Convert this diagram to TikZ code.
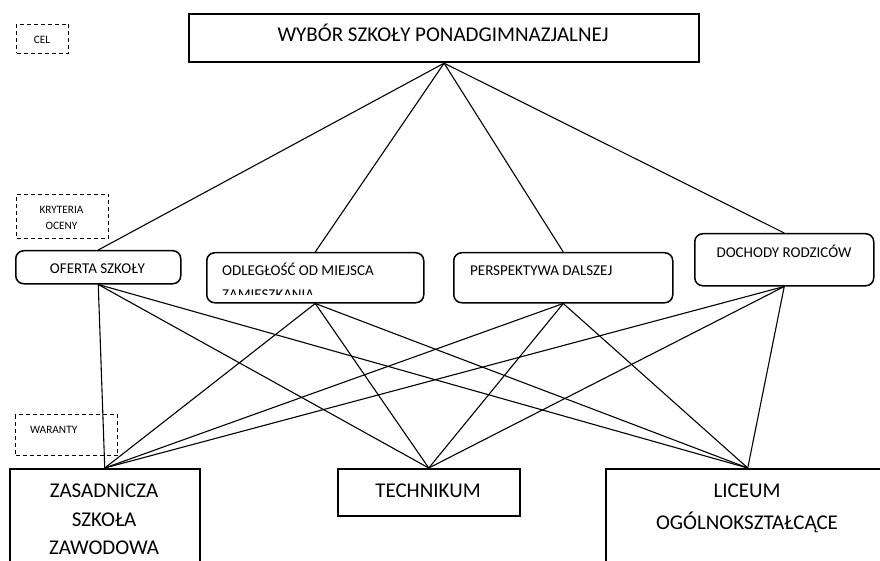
\documentclass[tikz,border=0pt]{standalone}
\usepackage{fontspec}
\setmainfont{Carlito}
\begin{document}
\begin{tikzpicture}[x=1pt,y=-1pt,
  box/.style={draw,line width=1.5pt,inner sep=0pt,anchor=north west},
  goalbox/.style={draw,line width=2.2pt,inner sep=0pt,anchor=north west},
  rbox/.style={draw,line width=1.5pt,rounded corners=8pt,inner sep=0pt,anchor=north west},
  dbox/.style={draw,line width=1pt,dash pattern=on 4pt off 3pt,inner sep=0pt,anchor=north west},
  conn/.style={line width=1.1pt},
  small/.style={font=\fontsize{11.3}{13}\selectfont,inner sep=0pt},
  mid/.style={font=\fontsize{15}{18}\selectfont,inner sep=0pt},
  big/.style={font=\fontsize{21}{25}\selectfont,inner sep=0pt}]
\useasboundingbox (0,0) rectangle (880,561);
\clip (0,0) rectangle (880,561);

% goal
\node[goalbox,minimum width=510pt,minimum height=48pt] (goal) at (188,13) {};
\node[big,anchor=base] (goalt) at (443,42) {WYBÓR SZKOŁY PONADGIMNAZJALNEJ};

% side labels
\node[dbox,minimum width=52pt,minimum height=29pt] (cel) at (16,24) {};
\node[small,anchor=base] (celt) at (42,44) {CEL};
\node[dbox,minimum width=92pt,minimum height=44pt] (kry) at (16,194) {};
\node[small,anchor=base] (kryt1) at (61.5,214) {KRYTERIA};
\node[small,anchor=base] (kryt2) at (61.5,230) {OCENY};
\node[dbox,minimum width=102pt,minimum height=41pt] (war) at (15,414) {};
\node[small,anchor=base west] (wart) at (30,433) {WARANTY};

% criteria
\node[rbox,minimum width=165pt,minimum height=33pt] (oferta) at (15,250) {};
\node[mid,anchor=base] (ofertat) at (97.5,273) {OFERTA SZKOŁY};
\node[rbox,minimum width=217pt,minimum height=50pt] (odl) at (206,252) {};
\begin{scope}
  \clip (206,252) rectangle (423,294);
  \node[mid,anchor=base west] (odlt1) at (222,276) {ODLEGŁOŚĆ OD MIEJSCA};
  \node[mid,anchor=base west] (odlt2) at (222,299) {ZAMIESZKANIA};
\end{scope}
\node[rbox,minimum width=219pt,minimum height=50pt] (persp) at (453,252) {};
\node[mid,anchor=base west] (perspt) at (470,276) {PERSPEKTYWA DALSZEJ};
\node[rbox,minimum width=179pt,minimum height=52pt] (doch) at (694,233) {};
\node[mid,anchor=base] (docht) at (784,258) {DOCHODY RODZICÓW};

% alternatives
\node[box,minimum width=190pt,minimum height=120pt] (zsz) at (9,468) {};
\node[big,anchor=base] (zszt1) at (104,497) {ZASADNICZA};
\node[big,anchor=base] (zszt2) at (104,526) {SZKOŁA};
\node[big,anchor=base] (zszt3) at (104,554) {ZAWODOWA};
\node[box,minimum width=182pt,minimum height=47pt] (tech) at (337,468) {};
\node[big,anchor=base] (techt) at (428,497) {TECHNIKUM};
\node[box,minimum width=284pt,minimum height=120pt] (lic) at (605,468) {};
\node[big,anchor=base] (lict1) at (747,497) {LICEUM};
\node[big,anchor=base] (lict2) at (747,529) {OGÓLNOKSZTAŁCĄCE};

% connectors
\foreach \c in {oferta,odl,persp,doch}
  \draw[conn] (goal.south) -- (\c.north);
\foreach \c in {oferta,odl,persp,doch}
  \foreach \a in {zsz,tech,lic}
    \draw[conn] (\c.south) -- (\a.north);
\end{tikzpicture}
\end{document}
